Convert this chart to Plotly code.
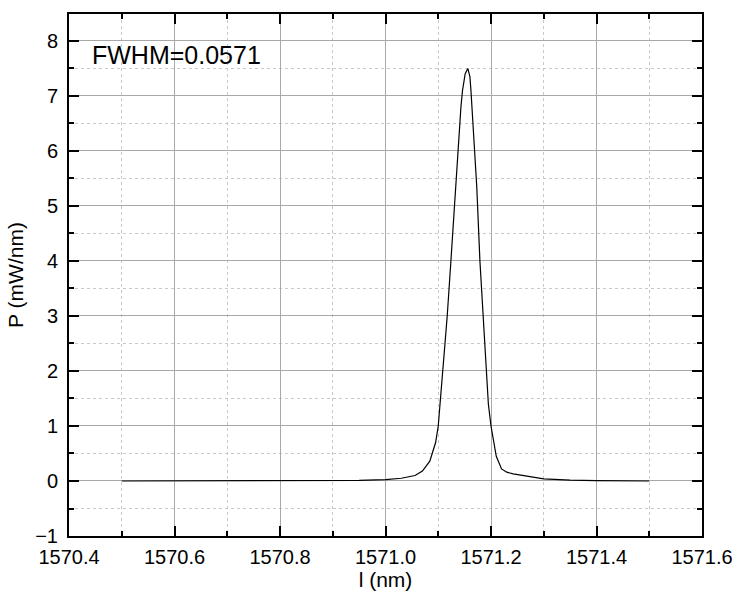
import plotly.graph_objects as go

wavelength = [1570.5, 1570.6, 1570.7, 1570.8, 1570.9, 1570.95, 1571.0, 1571.03, 1571.056,
              1571.07, 1571.084, 1571.095, 1571.1, 1571.107, 1571.112, 1571.117, 1571.124,
              1571.133, 1571.141, 1571.143, 1571.146, 1571.151, 1571.156, 1571.16, 1571.162,
              1571.167, 1571.173, 1571.179, 1571.185, 1571.19, 1571.195, 1571.2, 1571.21,
              1571.22, 1571.23, 1571.242, 1571.27, 1571.3, 1571.35, 1571.4, 1571.5]
power = [0.0, 0.0, 0.0, 0.001, 0.003, 0.01, 0.025, 0.05, 0.10,
         0.18, 0.36, 0.7, 1.0, 1.8, 2.5, 3.0, 4.0,
         5.35, 6.6, 6.8, 7.1, 7.4, 7.5, 7.35, 7.1,
         6.3, 5.35, 4.0, 3.0, 2.0, 1.4, 1.0, 0.45,
         0.22, 0.16, 0.13, 0.08, 0.04, 0.015, 0.005, 0.0]

x_ticks = [1570.4, 1570.6, 1570.8, 1571.0, 1571.2, 1571.4, 1571.6]
y_ticks = [-1, 0, 1, 2, 3, 4, 5, 6, 7, 8]
annotation_text = "FWHM=0.0571"

FONT = "Liberation Sans, Arial, sans-serif"

fig = go.Figure()
fig.add_trace(go.Scatter(x=wavelength, y=power, mode="lines",
                         line=dict(color="black", width=1.2), showlegend=False))

axis_common = dict(
    showline=True, linecolor="black", linewidth=2, mirror="allticks",
    ticks="inside", ticklen=10, tickwidth=2, tickcolor="black",
    showgrid=True, gridcolor="#a8a8a8", gridwidth=1, zeroline=False,
    tickfont=dict(family=FONT, size=20, color="black"),
    automargin=False,
)

fig.update_xaxes(
    **axis_common,
    range=[1570.4, 1571.6], tickvals=x_ticks,
    ticktext=[f"{v:.1f}" for v in x_ticks],
    ticklabelstandoff=2,
    minor=dict(dtick=0.1, ticks="inside", ticklen=5, tickwidth=1.5, tickcolor="black",
               showgrid=True, gridcolor="#c8c8c8", griddash="dot", gridwidth=1),
    title=dict(text="l (nm)", font=dict(family=FONT, size=21, color="black"), standoff=0),
)
fig.update_yaxes(
    **axis_common,
    range=[-1, 8.49], tickvals=y_ticks,
    ticklabelstandoff=5,
    minor=dict(dtick=0.5, ticks="inside", ticklen=5, tickwidth=1.5, tickcolor="black",
               showgrid=True, gridcolor="#c8c8c8", griddash="dot", gridwidth=1),
    title=dict(text="P (mW/nm)", font=dict(family=FONT, size=21, color="black"), standoff=6),
)

fig.add_annotation(text=annotation_text, xref="paper", yref="y", x=0.033, y=7.75,
                   xanchor="left", yanchor="middle", showarrow=False,
                   font=dict(family=FONT, size=25, color="black"))

fig.update_layout(
    width=736, height=594,
    margin=dict(l=69, r=34, t=14, b=58),
    paper_bgcolor="white", plot_bgcolor="white",
)

fig.write_html("out.html")
